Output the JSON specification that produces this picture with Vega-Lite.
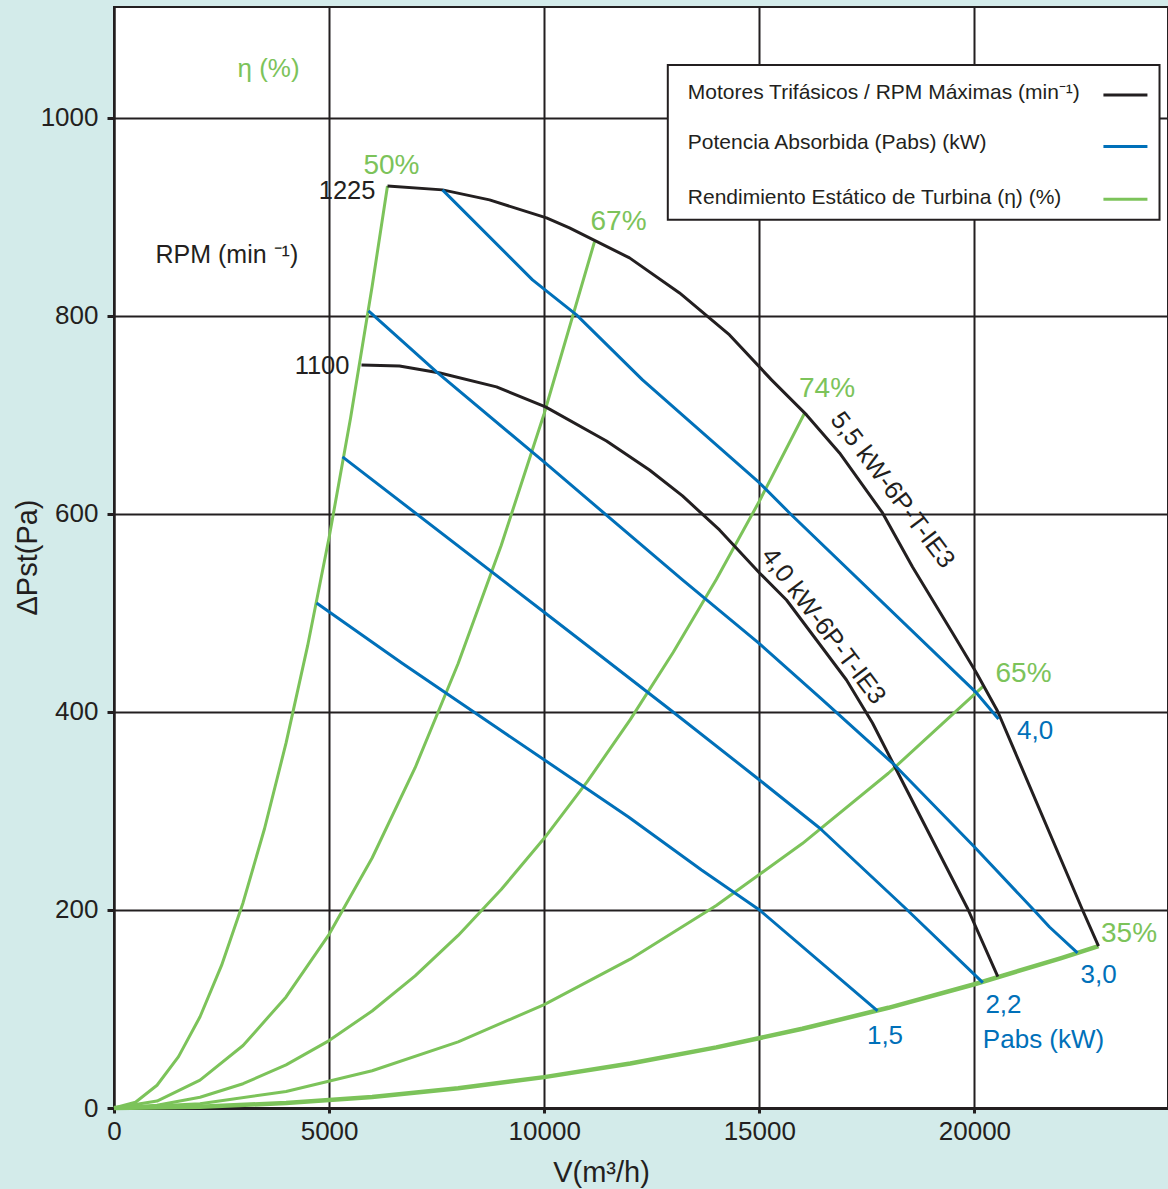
{
  "$schema": "https://vega.github.io/schema/vega-lite/v6.json",
  "autosize": {"type": "none"},
  "padding": {"left": 114, "top": 7, "right": 0, "bottom": 81},
  "width": 1054,
  "height": 1101,
  "background": "#d3ebea",
  "config": {
    "font": "Liberation Sans",
    "view": {"fill": "white", "stroke": "#231f20", "strokeWidth": 2},
    "axis": {
      "grid": true, "gridColor": "#231f20", "gridWidth": 2, "gridOpacity": 1,
      "domainColor": "#231f20", "tickColor": "#231f20", "tickWidth": 3,
      "labelColor": "#231f20", "labelFontSize": 26, "labelFont": "Liberation Sans", "labelFlush": false,
      "titleColor": "#231f20", "titleFontSize": 29, "titleFontWeight": "normal", "titleFont": "Liberation Sans"
    }
  },
  "datasets": {
    "eta": [
      {"s":"e50","V":0,"P":0},{"s":"e50","V":500,"P":5.8},{"s":"e50","V":1000,"P":23},{"s":"e50","V":1500,"P":51.9},{"s":"e50","V":2000,"P":92.2},{"s":"e50","V":2500,"P":144},{"s":"e50","V":3000,"P":207.4},{"s":"e50","V":3500,"P":282.3},{"s":"e50","V":4000,"P":368.7},{"s":"e50","V":4500,"P":466.7},{"s":"e50","V":5000,"P":576.2},{"s":"e50","V":5500,"P":697.1},{"s":"e50","V":6000,"P":829.7},{"s":"e50","V":6357,"P":931.3},
      {"s":"e67","V":0,"P":0},{"s":"e67","V":1000,"P":7},{"s":"e67","V":2000,"P":28.1},{"s":"e67","V":3000,"P":63.1},{"s":"e67","V":4000,"P":112.2},{"s":"e67","V":5000,"P":175.4},{"s":"e67","V":6000,"P":252.5},{"s":"e67","V":7000,"P":343.7},{"s":"e67","V":8000,"P":448.9},{"s":"e67","V":9000,"P":568.1},{"s":"e67","V":10000,"P":701.4},{"s":"e67","V":11170,"P":875.1},
      {"s":"e74","V":0,"P":0},{"s":"e74","V":1000,"P":2.7},{"s":"e74","V":2000,"P":10.9},{"s":"e74","V":3000,"P":24.5},{"s":"e74","V":4000,"P":43.6},{"s":"e74","V":5000,"P":68.1},{"s":"e74","V":6000,"P":98},{"s":"e74","V":7000,"P":133.5},{"s":"e74","V":8000,"P":174.3},{"s":"e74","V":9000,"P":220.6},{"s":"e74","V":10000,"P":272.4},{"s":"e74","V":11000,"P":329.6},{"s":"e74","V":12000,"P":392.2},{"s":"e74","V":13000,"P":460.3},{"s":"e74","V":14000,"P":533.8},{"s":"e74","V":15000,"P":612.8},{"s":"e74","V":16051,"P":701.7},
      {"s":"e65","V":0,"P":0},{"s":"e65","V":2000,"P":4.2},{"s":"e65","V":4000,"P":16.7},{"s":"e65","V":6000,"P":37.6},{"s":"e65","V":8000,"P":66.8},{"s":"e65","V":10000,"P":104.4},{"s":"e65","V":12000,"P":150.3},{"s":"e65","V":14000,"P":204.5},{"s":"e65","V":16000,"P":267.1},{"s":"e65","V":18000,"P":338.1},{"s":"e65","V":20195,"P":425.6},
      {"s":"e35","V":0,"P":0},{"s":"e35","V":2000,"P":1.25},{"s":"e35","V":4000,"P":5},{"s":"e35","V":6000,"P":11.2},{"s":"e35","V":8000,"P":20},{"s":"e35","V":10000,"P":31.2},{"s":"e35","V":12000,"P":45},{"s":"e35","V":14000,"P":61.2},{"s":"e35","V":16000,"P":80},{"s":"e35","V":18000,"P":101.2},{"s":"e35","V":20000,"P":125},{"s":"e35","V":22000,"P":151.2},{"s":"e35","V":22885,"P":163.6}
    ],
    "rpm": [
      {"s":"r1225","V":6357,"P":931.3},{"s":"r1225","V":7636,"P":927.3},{"s":"r1225","V":8729,"P":917.2},{"s":"r1225","V":10053,"P":899},{"s":"r1225","V":10587,"P":888.9},{"s":"r1225","V":11983,"P":858.6},{"s":"r1225","V":13146,"P":823.2},{"s":"r1225","V":14308,"P":780.8},{"s":"r1225","V":15284,"P":735.4},{"s":"r1225","V":16098,"P":700},{"s":"r1225","V":16865,"P":661.6},{"s":"r1225","V":17865,"P":601},{"s":"r1225","V":18562,"P":546.5},{"s":"r1225","V":19492,"P":479.8},{"s":"r1225","V":20049,"P":439.4},{"s":"r1225","V":20537,"P":401},{"s":"r1225","V":22513,"P":200},{"s":"r1225","V":22885,"P":163.6},
      {"s":"r1100","V":5753,"P":750.5},{"s":"r1100","V":6636,"P":749.5},{"s":"r1100","V":7578,"P":742.4},{"s":"r1100","V":8891,"P":728.3},{"s":"r1100","V":10030,"P":708.1},{"s":"r1100","V":11448,"P":673.7},{"s":"r1100","V":12448,"P":644.4},{"s":"r1100","V":13215,"P":618.2},{"s":"r1100","V":14075,"P":583.8},{"s":"r1100","V":15005,"P":540.4},{"s":"r1100","V":15632,"P":513.1},{"s":"r1100","V":16330,"P":472.7},{"s":"r1100","V":17027,"P":432.3},{"s":"r1100","V":17631,"P":388.9},{"s":"r1100","V":18189,"P":341.4},{"s":"r1100","V":19847,"P":201},{"s":"r1100","V":20544,"P":132.6}
    ],
    "pabs": [
      {"s":"p40","V":7636,"P":927.3},{"s":"p40","V":9728,"P":836.4},{"s":"p40","V":10751,"P":801},{"s":"p40","V":12285,"P":735.4},{"s":"p40","V":15005,"P":631.3},{"s":"p40","V":15702,"P":601},{"s":"p40","V":20049,"P":419.2},{"s":"p40","V":20561,"P":392.9},
      {"s":"p30","V":5916,"P":805.1},{"s":"p30","V":7497,"P":743.4},{"s":"p30","V":10023,"P":651.5},{"s":"p30","V":13215,"P":533.3},{"s":"p30","V":14981,"P":469.7},{"s":"p30","V":16469,"P":412.1},{"s":"p30","V":18143,"P":346.5},{"s":"p30","V":20002,"P":263.6},{"s":"p30","V":21359,"P":201},{"s":"p30","V":21745,"P":182.8},{"s":"p30","V":22396,"P":156.6},
      {"s":"p22","V":5312,"P":657.6},{"s":"p22","V":10023,"P":500},{"s":"p22","V":11076,"P":464.6},{"s":"p22","V":12936,"P":402},{"s":"p22","V":15005,"P":331.3},{"s":"p22","V":16401,"P":282.8},{"s":"p22","V":18415,"P":201},{"s":"p22","V":20196,"P":126.6},
      {"s":"p15","V":4708,"P":510.1},{"s":"p15","V":6707,"P":449},{"s":"p15","V":8962,"P":382.3},{"s":"p15","V":10007,"P":351.5},{"s":"p15","V":11960,"P":293.9},{"s":"p15","V":13657,"P":240.4},{"s":"p15","V":15005,"P":200},{"s":"p15","V":17748,"P":98}
    ],
    "pct": [
      {"V":6450,"P":943.4,"t":"50%"},{"V":11727,"P":886.9,"t":"67%"},{"V":16574,"P":718.2,"t":"74%"},{"V":21142,"P":430.3,"t":"65%"},{"V":23594,"P":167.7,"t":"35%"}
    ],
    "pabsLabels": [
      {"V":21409,"P":372.7,"t":"4,0"},{"V":22885,"P":126.3,"t":"3,0"},{"V":20676,"P":96,"t":"2,2"},{"V":17922,"P":64.6,"t":"1,5"},{"V":21607,"P":60.6,"t":"Pabs (kW)"}
    ],
    "rpmLabels": [
      {"V":6078,"P":918.2,"t":"1225"},{"V":5474,"P":741.4,"t":"1100"}
    ],
    "etaTitle": [{"V":2871,"P":1041,"t":"η (%)"}],
    "rpmTitle": [{"V":965,"P":853.2,"t":"RPM (min ⁻¹)"}],
    "motors": [
      {"V":18096,"P":624.2,"t":"5,5 kW-6P-T-IE3"},{"V":16493,"P":486.9,"t":"4,0 kW-6P-T-IE3"}
    ],
    "legendBox": [{"V":12873,"V2":24303,"P":1053.5,"P2":897}],
    "legendText": [
      {"V":13338,"P":1019.2,"t":"Motores Trifásicos / RPM Máximas (min⁻¹)"},
      {"V":13338,"P":968.4,"t":"Potencia Absorbida (Pabs) (kW)"},
      {"V":13338,"P":913.1,"t":"Rendimiento Estático de Turbina (η) (%)"}
    ],
    "legendLines": [
      {"V":22999,"V2":24022,"P":1023.2,"k":"rpm"},
      {"V":22999,"V2":24022,"P":971,"k":"pabs"},
      {"V":22999,"V2":24022,"P":917.9,"k":"eta"}
    ]
  },
  "encoding": {
    "x": {
      "field": "V", "type": "quantitative",
      "scale": {"domain": [0, 24500], "nice": false, "zero": false},
      "axis": {
        "values": [0, 5000, 10000, 15000, 20000], "format": "d",
        "title": "V(m³/h)", "titleX": 487, "titleY": 73, "titleBaseline": "alphabetic",
        "domainWidth": 3, "tickSize": 5, "labelPadding": 5
      }
    },
    "y": {
      "field": "P", "type": "quantitative",
      "scale": {"domain": [0, 1112], "nice": false, "zero": false},
      "axis": {
        "values": [0, 200, 400, 600, 800, 1000], "format": "d",
        "title": "ΔPst(Pa)", "titleX": -78, "titleY": 550, "titleBaseline": "alphabetic", "titleAlign": "center", "titleAngle": -90,
        "domainWidth": 2, "tickSize": 7, "labelPadding": 9
      }
    }
  },
  "layer": [
    {
      "data": {"name": "eta"},
      "mark": {"type": "line", "color": "#7cc35a", "strokeJoin": "round"},
      "encoding": {
        "detail": {"field": "s"},
        "strokeWidth": {"condition": {"test": "datum.s === 'e35'", "value": 4.5}, "value": 3}
      }
    },
    {
      "data": {"name": "rpm"},
      "mark": {"type": "line", "color": "#231f20", "strokeWidth": 3, "strokeJoin": "round"},
      "encoding": {"detail": {"field": "s"}}
    },
    {
      "data": {"name": "pabs"},
      "mark": {"type": "line", "color": "#0070b9", "strokeWidth": 3, "strokeJoin": "round"},
      "encoding": {"detail": {"field": "s"}}
    },
    {
      "data": {"name": "pct"},
      "mark": {"type": "text", "color": "#7cc35a", "fontSize": 28, "align": "center", "baseline": "alphabetic"},
      "encoding": {"text": {"field": "t"}}
    },
    {
      "data": {"name": "pabsLabels"},
      "mark": {"type": "text", "color": "#0070b9", "fontSize": 26, "align": "center", "baseline": "alphabetic"},
      "encoding": {"text": {"field": "t"}}
    },
    {
      "data": {"name": "rpmLabels"},
      "mark": {"type": "text", "color": "#231f20", "fontSize": 25.5, "align": "right", "baseline": "alphabetic"},
      "encoding": {"text": {"field": "t"}}
    },
    {
      "data": {"name": "etaTitle"},
      "mark": {"type": "text", "color": "#7cc35a", "fontSize": 26, "align": "left", "baseline": "alphabetic"},
      "encoding": {"text": {"field": "t"}}
    },
    {
      "data": {"name": "rpmTitle"},
      "mark": {"type": "text", "color": "#231f20", "fontSize": 25, "align": "left", "baseline": "alphabetic"},
      "encoding": {"text": {"field": "t"}}
    },
    {
      "data": {"name": "motors"},
      "mark": {"type": "text", "color": "#231f20", "fontSize": 25.5, "align": "center", "baseline": "middle", "angle": 53},
      "encoding": {"text": {"field": "t"}}
    },
    {
      "data": {"name": "legendBox"},
      "mark": {"type": "rect", "fill": "white", "stroke": "#231f20", "strokeWidth": 2},
      "encoding": {"x2": {"field": "V2"}, "y2": {"field": "P2"}}
    },
    {
      "data": {"name": "legendText"},
      "mark": {"type": "text", "color": "#231f20", "fontSize": 21, "align": "left", "baseline": "alphabetic"},
      "encoding": {"text": {"field": "t"}}
    },
    {
      "data": {"name": "legendLines"},
      "mark": {"type": "rule", "strokeWidth": 3},
      "encoding": {
        "x2": {"field": "V2"},
        "color": {"field": "k", "type": "nominal", "scale": {"domain": ["rpm", "pabs", "eta"], "range": ["#231f20", "#0070b9", "#7cc35a"]}, "legend": null}
      }
    }
  ]
}
